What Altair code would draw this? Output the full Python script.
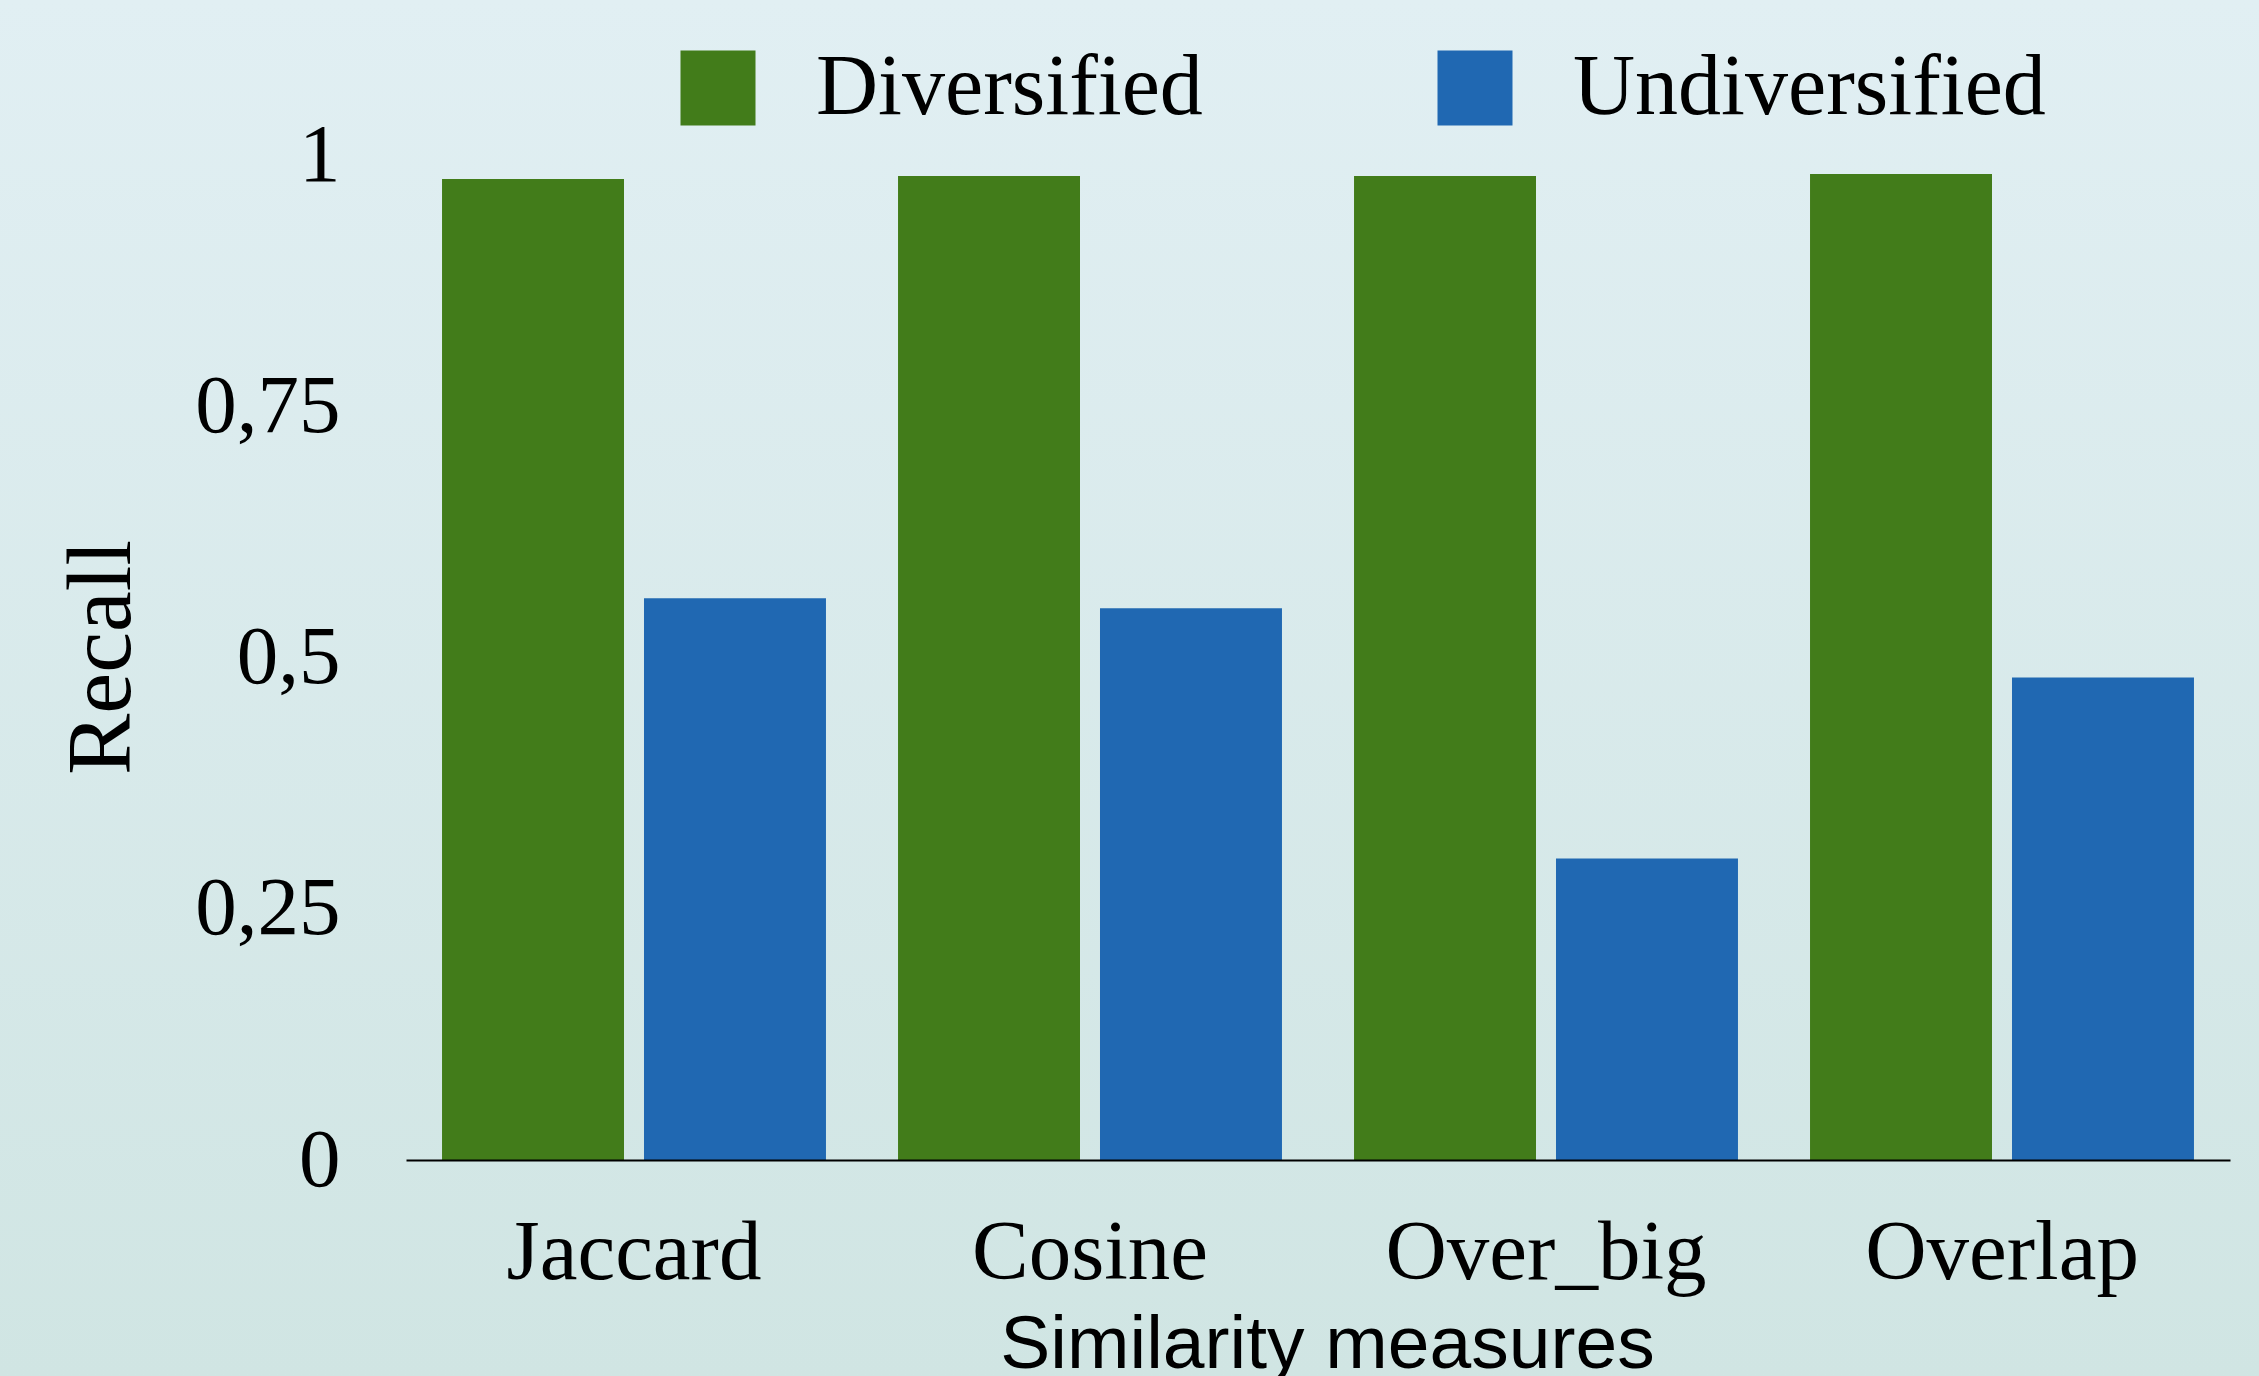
import altair as alt
import pandas as pd

categories = ["Jaccard", "Cosine", "Over_big", "Overlap"]
series = ["Diversified", "Undiversified"]
diversified = [0.976, 0.979, 0.979, 0.981]
undiversified = [0.559, 0.549, 0.300, 0.480]
y_ticks = [0, 0.25, 0.5, 0.75, 1]

rows = []
for c, d, u in zip(categories, diversified, undiversified):
    rows.append({"measure": c, "series": "Diversified", "recall": d})
    rows.append({"measure": c, "series": "Undiversified", "recall": u})
df = pd.DataFrame(rows)

W, H = 1824, 1005
PAD = {"left": 406, "top": 155, "right": 29, "bottom": 216}

bg = alt.Chart(pd.DataFrame({"a": [0]})).mark_rect(
    fill=alt.LinearGradient(
        gradient="linear",
        stops=[alt.GradientStop(color="#e1eff3", offset=0),
               alt.GradientStop(color="#d0e5e3", offset=1)],
        x1=0, x2=0, y1=0, y2=1,
    )
).encode(
    x=alt.value(-PAD["left"]),
    x2=alt.value(W + PAD["right"]),
    y=alt.value(-PAD["top"]),
    y2=alt.value(H + PAD["bottom"]),
)

bars = alt.Chart(df).mark_bar().encode(
    x=alt.X("measure:N", sort=categories,
            scale=alt.Scale(paddingInner=0.158, paddingOuter=0.079),
            axis=alt.Axis(title="Similarity measures", labelAngle=0,
                          labelFont="Liberation Serif", labelFontSize=85,
                          labelColor="black", labelPadding=51,
                          labelLimit=1000,
                          ticks=False, tickSize=0,
                          domainColor="black", domainWidth=2,
                          titleFont="Liberation Sans", titleFontSize=75,
                          titleFontWeight="normal", titleColor="black",
                          titleX=921, titleY=207, titleAlign="center",
                          titleBaseline="alphabetic", zindex=1)),
    xOffset=alt.XOffset("series:N", sort=series,
                        scale=alt.Scale(paddingInner=0.099)),
    y=alt.Y("recall:Q", scale=alt.Scale(domain=[0, 1]),
            axis=alt.Axis(title="Recall", values=y_ticks,
                          labelExpr="replace(format(datum.value, '~g'), '.', ',')",
                          labelFont="Liberation Serif", labelFontSize=83,
                          labelColor="black", labelPadding=66,
                          ticks=False, tickSize=0, domain=False, grid=False,
                          titleFont="Liberation Serif", titleFontSize=92,
                          titleFontWeight="normal", titleColor="black",
                          titleAngle=270, titleX=-277, titleY=502,
                          titleAlign="center", titleBaseline="alphabetic",
                          zindex=1)),
    color=alt.Color("series:N", sort=series,
                    scale=alt.Scale(domain=series, range=["#427c1a", "#2068b2"]),
                    legend=alt.Legend(title=None, orient="none",
                                      legendX=269, legendY=-110,
                                      direction="horizontal", columns=2,
                                      symbolType="square", symbolSize=5625,
                                      symbolStrokeWidth=0, symbolOpacity=1,
                                      labelFont="Liberation Serif",
                                      labelFontSize=86, labelColor="black",
                                      labelOffset=55, columnPadding=229,
                                      padding=0, labelLimit=1000)),
)

chart = alt.layer(bg, bars).properties(
    width=W, height=H, padding=PAD,
    autosize=alt.AutoSizeParams(type="none"),
    background="#d8eaec",
).configure_view(stroke=None)

chart.save("out.html", embed_options={"renderer": "svg", "actions": False})
